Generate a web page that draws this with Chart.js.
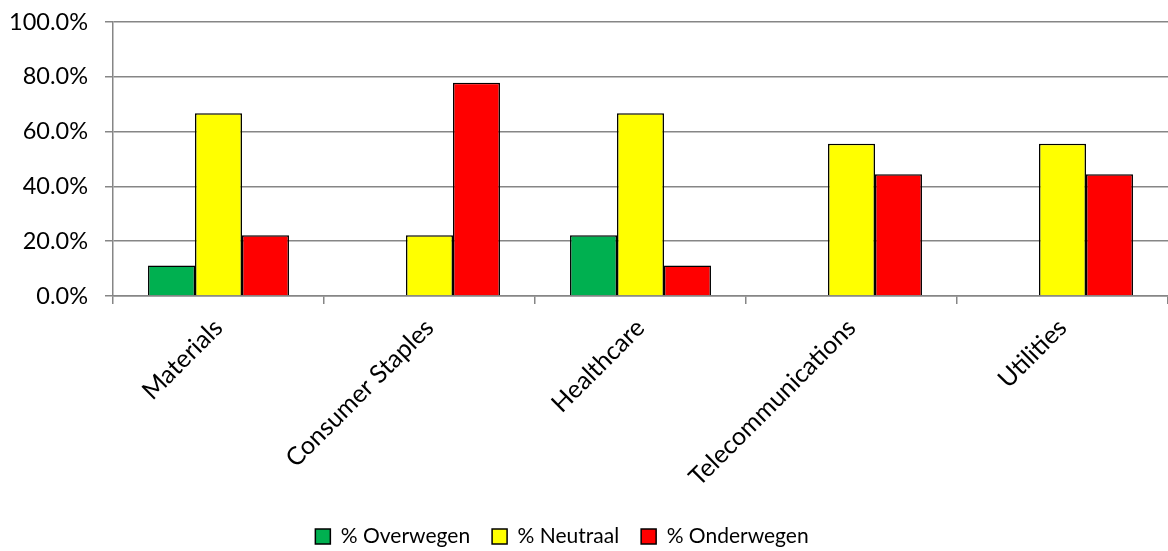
<!DOCTYPE html>
<html>
<head>
<meta charset="utf-8">
<script src="https://cdn.jsdelivr.net/npm/chart.js@4/dist/chart.umd.min.js"></script>
<style>
html,body{margin:0;padding:0;background:#fff;}
#wrap{width:1168px;height:551px;position:relative;}
</style>
</head>
<body>
<div id="wrap"><canvas id="c" width="1168" height="551"></canvas></div>
<script>
const categories = ["Materials", "Consumer Staples", "Healthcare", "Telecommunications", "Utilities"];
const overwegen = [11.1, 0, 22.2, 0, 0];
const neutraal = [66.7, 22.2, 66.7, 55.6, 55.6];
const onderwegen = [22.2, 77.8, 11.1, 44.4, 44.4];
const seriesNames = ["% Overwegen", "% Neutraal", "% Onderwegen"];
const yTicks = [0, 20, 40, 60, 80, 100];

const FONT = "Lato, sans-serif";
const GRID = "#868686";

const legendShift = {
  id: 'legendShift',
  afterLayout(chart) {
    if (chart.legend) { chart.legend.left -= 44; }
  }
};

new Chart(document.getElementById('c'), {
  type: 'bar',
  data: {
    labels: categories,
    datasets: [
      {label: seriesNames[0], data: overwegen, backgroundColor: '#00B050', borderColor: '#000', borderWidth: 1.5},
      {label: seriesNames[1], data: neutraal, backgroundColor: '#FFFF00', borderColor: '#000', borderWidth: 1.5},
      {label: seriesNames[2], data: onderwegen, backgroundColor: '#FF0000', borderColor: '#000', borderWidth: 1.5}
    ]
  },
  plugins: [legendShift],
  options: {
    responsive: false,
    animation: false,
    devicePixelRatio: 1,
    layout: {padding: {top: 22, right: 0, left: 0, bottom: -6}},
    datasets: {bar: {categoryPercentage: 0.668, barPercentage: 1.0}},
    plugins: {
      tooltip: {enabled: false},
      legend: {
        position: 'bottom',
        labels: {
          font: {family: FONT, size: 21},
          color: '#000',
          boxWidth: 15,
          boxHeight: 15,
          padding: 22,
          generateLabels: (chart) => chart.data.datasets.map((ds, i) => ({
            text: ds.label, fillStyle: ds.backgroundColor, strokeStyle: '#000', lineWidth: 1.5, datasetIndex: i, fontColor: '#000'
          }))
        }
      }
    },
    scales: {
      x: {
        offset: true,
        grid: {offset: true, drawOnChartArea: false, drawTicks: true, tickLength: 8, color: GRID, lineWidth: 1.5},
        border: {display: true, color: GRID, width: 1.5},
        ticks: {font: {family: FONT, size: 25}, color: '#000', minRotation: 45, maxRotation: 45, padding: 9, autoSkip: false},
        afterFit: (s) => { s.height = 208; }
      },
      y: {
        min: 0, max: 100,
        afterBuildTicks: (s) => { s.ticks = yTicks.map(v => ({value: v})); },
        grid: {color: GRID, lineWidth: 1.5, tickLength: 8},
        border: {display: true, color: GRID, width: 1.5},
        ticks: {font: {family: FONT, size: 23.5}, color: '#000', padding: 17, callback: (v) => v.toFixed(1) + '%'},
        afterFit: (s) => { s.width = 113; s.paddingTop = 14; s.paddingBottom = 14; }
      }
    }
  }
});
</script>
</body>
</html>
